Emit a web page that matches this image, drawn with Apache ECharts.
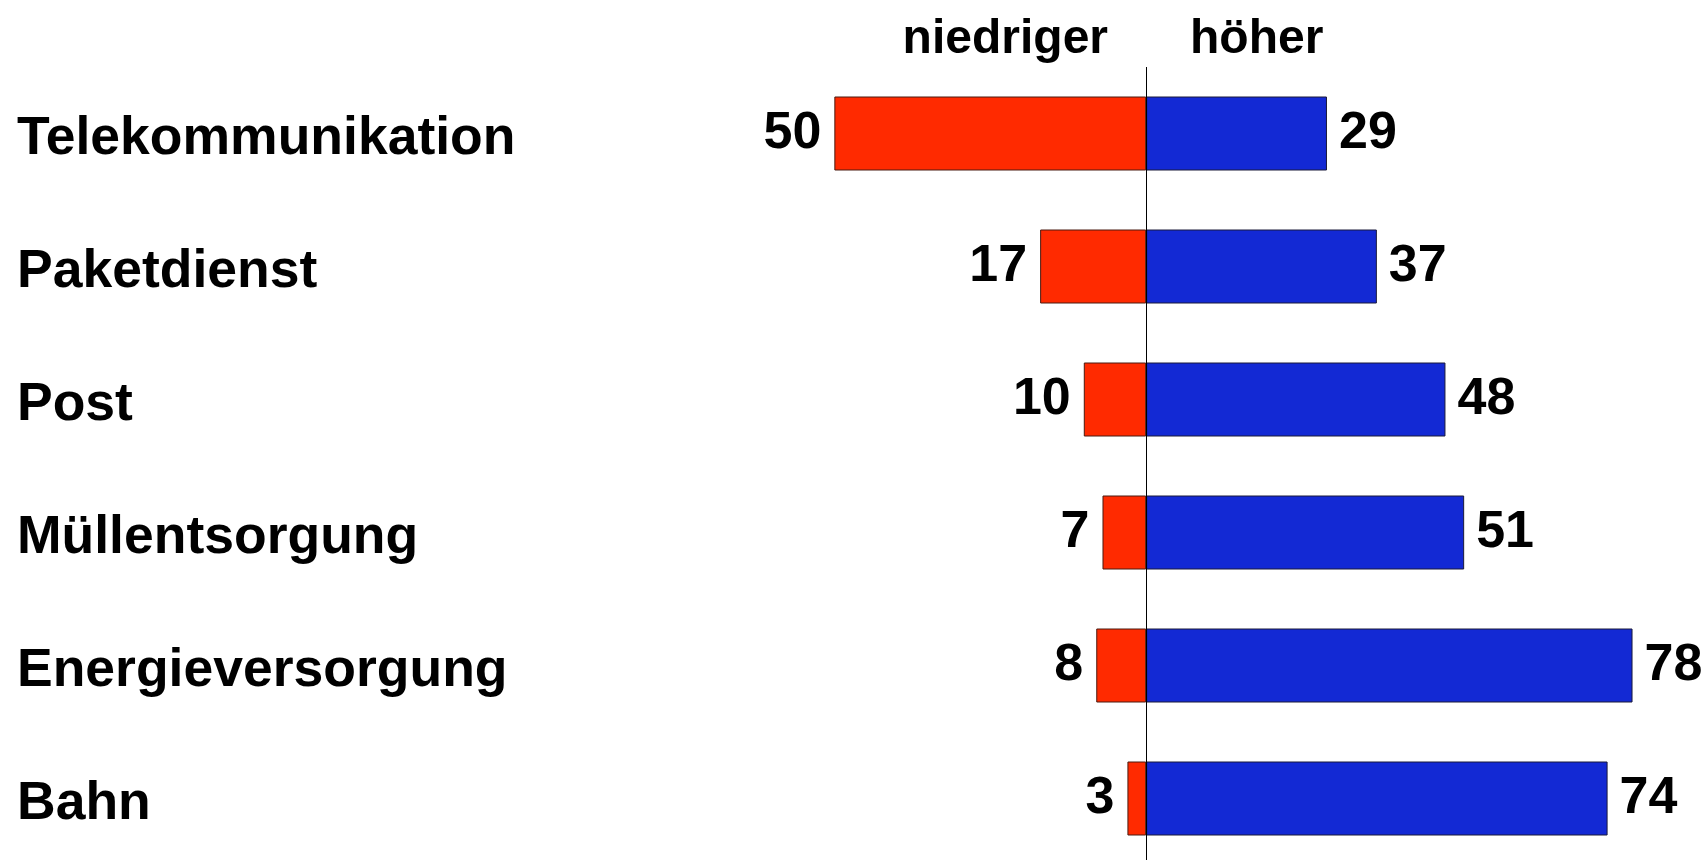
<!DOCTYPE html>
<html lang="de">
<head>
    <meta charset="utf-8">
    <title>niedriger / höher</title>
    <style>
        html, body { margin: 0; padding: 0; background: #fff; overflow: hidden; }
        #main { width: 1708px; height: 872px; }
    </style>
</head>
<body>
<div id="main"></div>
<script src="https://cdn.jsdelivr.net/npm/echarts@6/dist/echarts.min.js"></script>
<script type="text/javascript">
    // Bereiche (von oben nach unten)
    var bereiche = ['Telekommunikation', 'Paketdienst', 'Post', 'Müllentsorgung', 'Energieversorgung', 'Bahn'];
    // Anteile "niedriger" (links, rot) und "höher" (rechts, blau)
    var niedriger = [50, 17, 10, 7, 8, 3];
    var hoeher = [29, 37, 48, 51, 78, 74];

    var schrift = "'Liberation Sans', Arial, Helvetica, sans-serif";

    var myChart = echarts.init(document.getElementById('main'));

    var option = {
        backgroundColor: '#ffffff',
        animation: false,
        textStyle: { fontFamily: schrift },
        // Raster reicht etwas unter den sichtbaren Bereich (872px Container, 860px Fenster)
        grid: { left: 772, right: 63, top: 67, height: 798, containLabel: false },
        xAxis: {
            type: 'value',
            min: -60,
            max: 80,
            show: false,
            splitLine: { show: false }
        },
        yAxis: {
            type: 'category',
            data: bereiche,
            inverse: true,
            axisLine: { show: false },
            axisTick: { show: false },
            axisLabel: {
                margin: 755,
                align: 'left',
                formatter: function (v) { return '{k|' + v + '}'; },
                rich: {
                    k: {
                        color: '#000',
                        fontSize: 53.5,
                        fontWeight: 'bold',
                        fontFamily: schrift,
                        padding: [11, 0, 0, 0]
                    }
                }
            }
        },
        graphic: [
            {
                type: 'text',
                right: 1708 - 1108,
                top: 16,
                style: { text: 'niedriger', fill: '#000', font: 'bold 48px ' + schrift }
            },
            {
                type: 'text',
                left: 1190,
                top: 16,
                style: { text: 'höher', fill: '#000', font: 'bold 48px ' + schrift }
            }
        ],
        series: [
            {
                name: 'niedriger',
                type: 'bar',
                stack: 'gesamt',
                barWidth: 74,
                data: niedriger.map(function (v) { return -v; }),
                itemStyle: { color: '#ff2a00', borderColor: '#4a1a10', borderWidth: 1 },
                label: {
                    show: true,
                    position: 'left',
                    distance: 13,
                    color: '#000',
                    fontSize: 52,
                    fontWeight: 'bold',
                    fontFamily: schrift,
                    formatter: function (p) { return Math.abs(p.value); }
                }
            },
            {
                name: 'höher',
                type: 'bar',
                stack: 'gesamt',
                barWidth: 74,
                data: hoeher,
                itemStyle: { color: '#1329d4', borderColor: '#1a1a3a', borderWidth: 1 },
                label: {
                    show: true,
                    position: 'right',
                    distance: 12,
                    color: '#000',
                    fontSize: 52,
                    fontWeight: 'bold',
                    fontFamily: schrift
                },
                markLine: {
                    silent: true,
                    symbol: ['none', 'none'],
                    label: { show: false },
                    lineStyle: { color: '#000', width: 1, type: 'solid' },
                    data: [{ xAxis: 0 }]
                }
            }
        ]
    };

    myChart.setOption(option);
</script>
</body>
</html>
